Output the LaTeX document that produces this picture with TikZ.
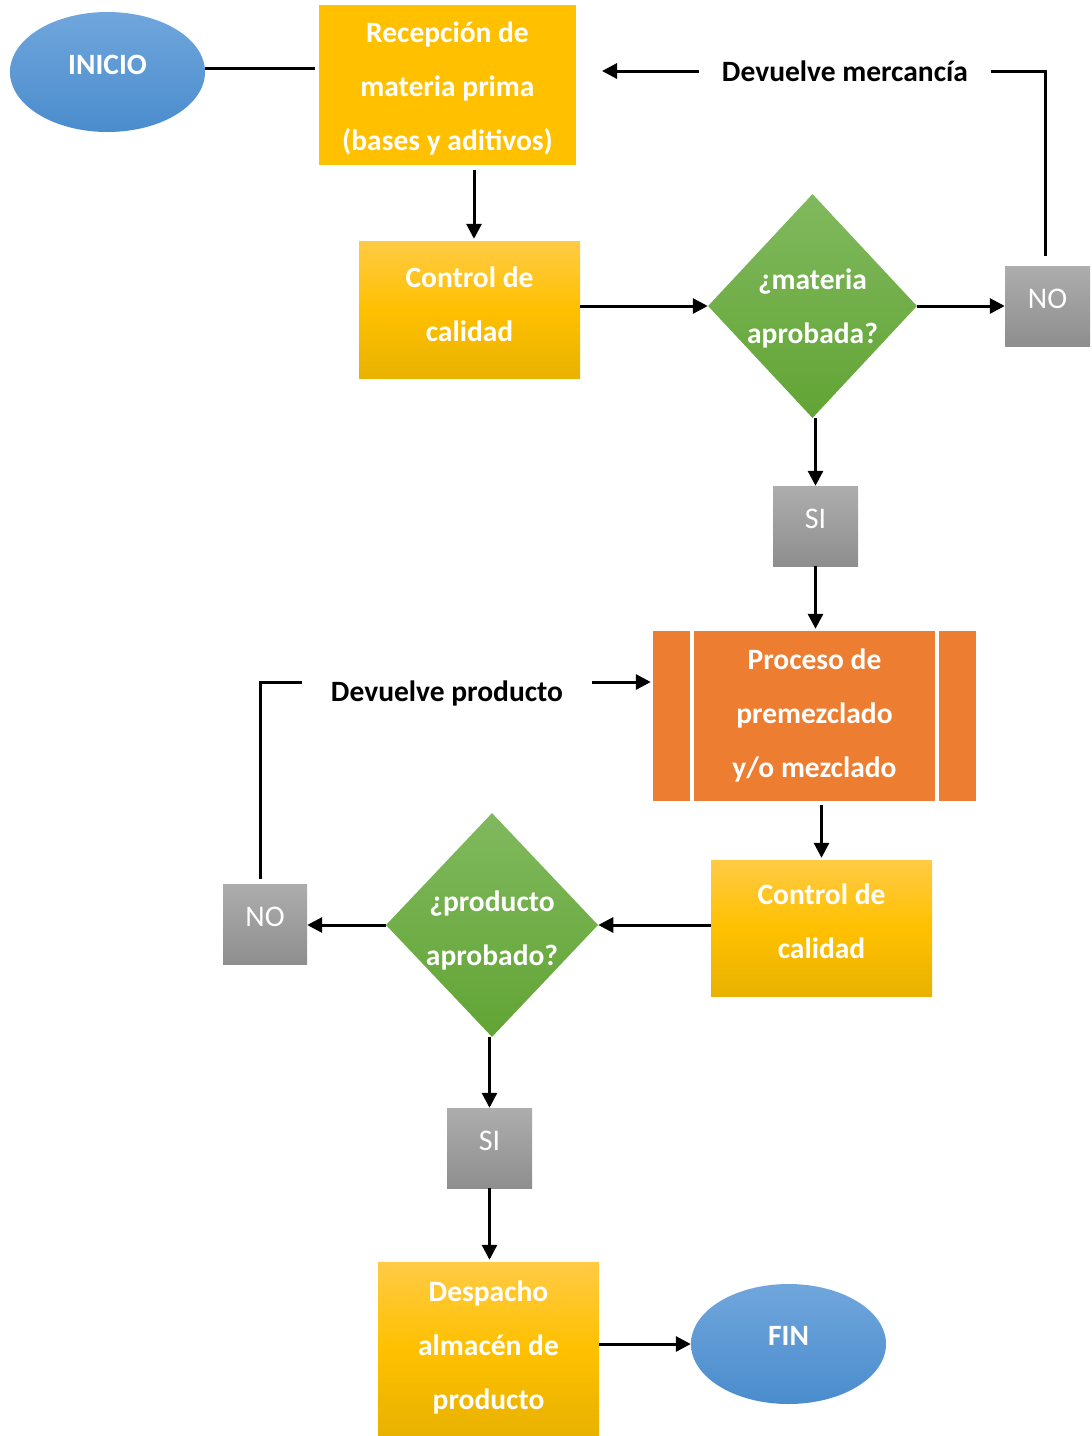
\documentclass[tikz,border=0pt]{standalone}
\usepackage{fontspec}
\setmainfont{Carlito}
\usetikzlibrary{shapes.geometric,arrows.meta}
\definecolor{amber}{HTML}{FFC000}
\definecolor{yelT}{HTML}{FFCB45}
\definecolor{yelB}{HTML}{E8B200}
\definecolor{blueT}{HTML}{70A6DC}
\definecolor{blueB}{HTML}{4A8CCD}
\definecolor{greenT}{HTML}{80B95E}
\definecolor{greenB}{HTML}{62A434}
\definecolor{grayT}{HTML}{ADADAD}
\definecolor{grayB}{HTML}{8E8E8E}
\definecolor{orng}{HTML}{ED7D31}
\begin{document}
\begin{tikzpicture}[x=1pt,y=-1pt,
  ln/.style={line width=3pt},
  arr/.style={ln,-{Triangle[length=15pt,width=15pt]}},
  main/.style={text=white,font=\bfseries\fontsize{29.5}{54}\selectfont,align=center,inner sep=0pt,text depth=0pt},
  yelbox/.style={main,rectangle,minimum width=221pt,minimum height=137pt,top color=yelT,bottom color=yelB,middle color=amber},
  oval/.style={main,ellipse,minimum width=195pt,minimum height=120pt,top color=blueT,bottom color=blueB,text height=3pt,text depth=0pt},
  decision/.style={main,diamond,minimum width=209pt,minimum height=224pt,top color=greenT,bottom color=greenB},
  answer/.style={rectangle,minimum width=85pt,minimum height=80pt,top color=grayT,bottom color=grayB,text=white,font=\fontsize{30}{32}\selectfont,inner sep=0pt,text height=4pt,text depth=0pt},
  lbl/.style={font=\bfseries\fontsize{29.5}{32}\selectfont,text=black,inner ysep=0pt}
]
\useasboundingbox (0,0) rectangle (1092,1436);

\node[oval,text height=4pt] (inicio) at (107.5,72) {INICIO};
\node[main,rectangle,fill=amber,minimum width=257pt,minimum height=160pt,text height=130pt] (rec) at (447.5,85) {Recepción de\\materia prima\\(bases y aditivos)};
\node[yelbox,text height=63pt] (ctrl1) at (469.5,309.5) {Control de\\calidad};
\node[decision,text height=74pt] (d1) at (812.5,306) {¿materia\\aprobada?};
\node[answer,text height=5pt] (no1) at (1047.5,306) {NO};
\node[answer] (si1) at (815.5,526) {SI};
\node[lbl,inner xsep=23pt] (lblM) at (845,71) {Devuelve mercancía};
\coordinate (retM) at (602,71);

\node[main,rectangle,fill=orng,minimum width=323pt,minimum height=170pt,text height=123pt] (proc) at (814.5,716) {Proceso de\\premezclado\\y/o mezclado};
\draw[white,line width=4pt] ([xshift=39pt]proc.north west) -- ([xshift=39pt]proc.south west);
\draw[white,line width=4pt] ([xshift=-39pt]proc.north east) -- ([xshift=-39pt]proc.south east);

\node[yelbox,minimum height=136pt,text height=60pt] (ctrl2) at (821.5,928) {Control de\\calidad};
\node[decision,minimum width=210pt,text height=80pt] (d2) at (492,925) {¿producto\\aprobado?};
\node[answer,minimum width=84pt] (no2) at (265,924) {NO};
\node[answer] (si2) at (489.5,1148) {SI};
\node[lbl,inner xsep=29pt] (lblP) at (447,693) {Devuelve producto};

\node[yelbox,minimum height=174pt,text height=120pt] (desp) at (488.5,1349) {Despacho\\almacén de\\producto};
\node[oval] (fin) at (788.5,1344) {FIN};

% connectors
\draw[ln,shorten >=4pt] ([yshift=4pt]inicio.east) -- ([yshift=4pt]inicio.east -| rec.west);
\draw[arr,shorten <=5pt,shorten >=2pt] ([xshift=26.5pt]rec.south) -- ([xshift=26.5pt]rec.south |- ctrl1.north);
\draw[arr] (ctrl1.east |- d1.west) -- (d1.west);
\draw[arr] (d1.east) -- (no1.west);
\draw[ln,shorten <=10pt] ([xshift=-2.5pt]no1.north) |- (lblM.east);
\draw[arr] (lblM.west) -- (lblM.west -| retM);
\draw[arr] (si1.north |- d1.south) -- (si1.north);
\draw[arr,shorten >=2pt] (si1.south) -- (si1.south |- proc.north);
\draw[arr,shorten <=4pt,shorten >=2pt] (ctrl2.north |- proc.south) -- (ctrl2.north);
\draw[arr] (d2.east -| ctrl2.west) -- (d2.east);
\draw[arr] (d2.west) -- (d2.west -| no2.east);
\draw[ln,shorten <=5pt] ([xshift=-5pt]no2.north) |- ([yshift=11pt]lblP.west);
\draw[arr,shorten >=2pt] ([yshift=11pt]lblP.east) -- ([yshift=11pt]lblP.east -| proc.west);
\draw[arr] (si2.north |- d2.south) -- (si2.north);
\draw[arr,shorten >=2pt] (si2.south) -- (si2.south |- desp.north);
\draw[arr] (desp.east |- fin.west) -- (fin.west);
\end{tikzpicture}
\end{document}
